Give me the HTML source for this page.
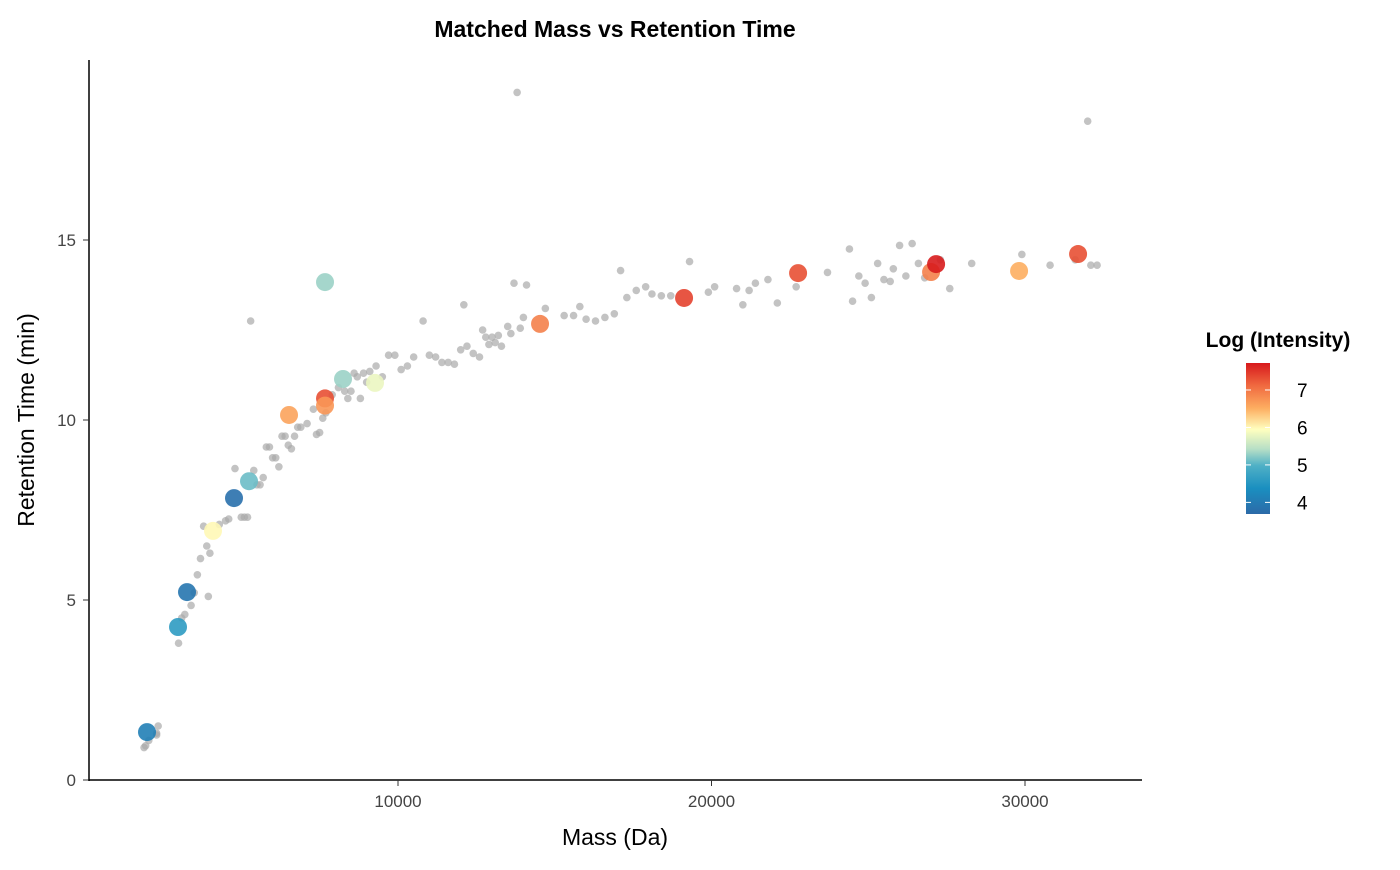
<!DOCTYPE html>
<html><head><meta charset="utf-8"><style>
body{margin:0;background:#fff;font-family:"Liberation Sans",Arial,sans-serif}
</style></head><body>
<svg id="chart" width="1400" height="865" xmlns="http://www.w3.org/2000/svg">
<defs><linearGradient id="lg" x1="0" y1="1" x2="0" y2="0">
<stop offset="0" stop-color="#2c6aa8"/><stop offset="0.17" stop-color="#1a8fc0"/><stop offset="0.32" stop-color="#4fb0c6"/>
<stop offset="0.43" stop-color="#b7dfc6"/><stop offset="0.56" stop-color="#ffffbf"/><stop offset="0.7" stop-color="#fdae61"/>
<stop offset="0.85" stop-color="#f06a40"/><stop offset="1" stop-color="#d7191c"/></linearGradient></defs>
<text x="615" y="37" text-anchor="middle" font-size="23" font-weight="bold">Matched Mass vs Retention Time</text>
<g id="grayg"></g>
<g id="colg"></g>
<line x1="89" y1="60" x2="89" y2="781" stroke="#000" stroke-width="1.5"/>
<line x1="88" y1="780" x2="1142" y2="780" stroke="#000" stroke-width="1.5"/>
<g id="xt"></g>
<g id="yt"></g>
<text x="615" y="845" text-anchor="middle" font-size="23">Mass (Da)</text>
<text transform="translate(34,420) rotate(-90)" text-anchor="middle" font-size="23">Retention Time (min)</text>
<text x="1278" y="347" text-anchor="middle" font-size="21" font-weight="bold">Log (Intensity)</text>
<rect x="1246" y="363" width="24" height="151" fill="url(#lg)"/>
<g id="lt"></g>
</svg>
<script>
const grayMass=[1900,1950,2050,2300,2350,2300,3000,3100,3200,3400,3500,3600,3700,3800,3900,4000,3950,4300,4500,4600,4800,5000,5100,5200,5300,5400,5500,5600,5700,5800,5900,6000,6100,6200,6300,6400,6500,6600,6700,6800,6900,7100,7300,7400,7500,7600,7700,7900,8100,8300,8400,8500,8600,8700,8800,8900,9000,9100,9300,9500,9700,9900,10100,10300,10500,10800,11000,11200,11400,11600,11800,12000,12100,12200,12400,12600,12700,12800,12900,13000,13100,13200,13300,13500,13600,13700,13800,13900,14000,14100,14700,15300,15600,15800,16000,16300,16600,16900,17100,17300,17600,17900,18100,18400,18700,19300,19900,20100,20800,21000,21200,21400,21800,22100,22700,23700,24400,24500,24700,24900,25100,25300,25500,25700,25800,26000,26200,26400,26600,26800,27300,27600,28300,29900,30800,32000,32100,32300,31600];
const grayRT=[0.9,0.95,1.1,1.3,1.5,1.25,3.8,4.5,4.6,4.85,5.2,5.7,6.15,7.05,6.5,6.3,5.1,7.1,7.2,7.25,8.65,7.3,7.3,7.3,12.75,8.6,8.2,8.2,8.4,9.25,9.25,8.95,8.95,8.7,9.55,9.55,9.3,9.2,9.55,9.8,9.8,9.9,10.3,9.6,9.65,10.05,10.2,10.7,10.9,10.8,10.6,10.8,11.3,11.2,10.6,11.3,11.05,11.35,11.5,11.2,11.8,11.8,11.4,11.5,11.75,12.75,11.8,11.75,11.6,11.6,11.55,11.95,13.2,12.05,11.85,11.75,12.5,12.3,12.1,12.3,12.15,12.35,12.05,12.6,12.4,13.8,19.1,12.55,12.85,13.75,13.1,12.9,12.9,13.15,12.8,12.75,12.85,12.95,14.15,13.4,13.6,13.7,13.5,13.45,13.45,14.4,13.55,13.7,13.65,13.2,13.6,13.8,13.9,13.25,13.7,14.1,14.75,13.3,14.0,13.8,13.4,14.35,13.9,13.85,14.2,14.85,14.0,14.9,14.35,13.95,14.45,13.65,14.35,14.6,14.3,18.3,14.3,14.3,14.45];
const colMass=[1994,2983,3270,4099,4769,5248,6524,7672,7672,7672,8246,9267,14531,19125,22762,27004,27164,29811,31693];
const colRT=[1.33,4.25,5.22,6.92,7.83,8.3,10.14,10.6,10.4,13.83,11.14,11.03,12.67,13.39,14.08,14.11,14.33,14.14,14.61];
const colInt=[4.1,4.6,3.9,6.0,3.8,5.1,6.6,7.3,6.7,5.3,5.3,5.8,6.9,7.4,7.3,6.9,7.7,6.5,7.3];
const xTicks=[10000,20000,30000];
const yTicks=[0,5,10,15];
const legendTicks=[4,5,6,7];
const xs=m=>84.5+m*0.03135, ys=r=>780-r*36;
const ls=v=>363+(7.72-v)/(7.72-3.69)*151;
const NS="http://www.w3.org/2000/svg";
function mk(t,a,p){const e=document.createElementNS(NS,t);for(const k in a)e.setAttribute(k,a[k]);p.appendChild(e);return e;}
const stops=[[3.69,[44,106,168]],[4.37,[26,143,192]],[4.98,[79,176,198]],[5.42,[183,223,198]],[5.95,[255,255,191]],[6.5,[253,174,97]],[7.1,[240,106,64]],[7.72,[215,25,28]]];
function col(v){for(let i=0;i<stops.length-1;i++){const[a,c1]=stops[i],[b,c2]=stops[i+1];if(v<=b||i==stops.length-2){const t=Math.max(0,Math.min(1,(v-a)/(b-a)));return `rgb(${c1.map((c,j)=>Math.round(c+(c2[j]-c)*t)).join(',')})`;}}}
const gg=document.getElementById('grayg');
grayMass.forEach((m,i)=>{const c=mk('circle',{cx:xs(m),cy:ys(grayRT[i]),r:3.8,fill:'#a9a9a9','fill-opacity':0.7},gg);

});
const cg=document.getElementById('colg');
colMass.forEach((m,i)=>{const c=mk('circle',{cx:xs(m),cy:ys(colRT[i]),r:9,fill:col(colInt[i]),'fill-opacity':0.9},cg);

});
const xt=document.getElementById('xt');
xTicks.forEach(v=>{mk('line',{x1:xs(v),x2:xs(v),y1:780,y2:786,stroke:'#333'},xt);const t=mk('text',{x:xs(v),y:807,'text-anchor':'middle','font-size':17,fill:'#444'},xt);t.textContent=v;

});
const yt=document.getElementById('yt');
yTicks.forEach(v=>{mk('line',{x1:83,x2:89,y1:ys(v),y2:ys(v),stroke:'#333'},yt);const t=mk('text',{x:76,y:ys(v)+6,'text-anchor':'end','font-size':17,fill:'#444'},yt);t.textContent=v;

});
const lt=document.getElementById('lt');
legendTicks.forEach(v=>{const y=ls(v);mk('line',{x1:1246,x2:1251,y1:y,y2:y,stroke:'#fff'},lt);mk('line',{x1:1265,x2:1270,y1:y,y2:y,stroke:'#fff'},lt);
const t=mk('text',{x:1297,y:y+7,'font-size':19,fill:'#000'},lt);t.textContent=v;

});
</script>
</body></html>
